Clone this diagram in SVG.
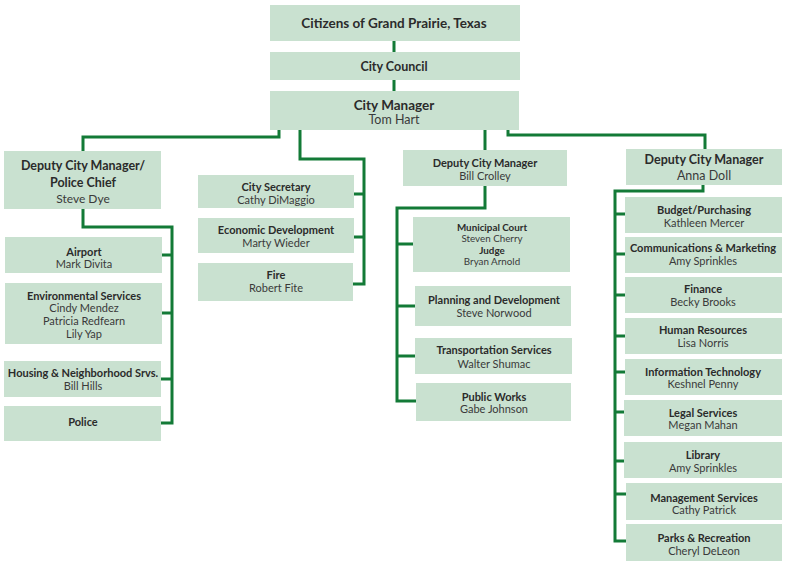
<svg xmlns="http://www.w3.org/2000/svg" width="786" height="562" viewBox="0 0 786 562">
<style>
.b{fill:#c9e1d0}
.t{font-family:Lato,"Open Sans","DejaVu Sans",sans-serif;font-weight:bold;font-size:11px;fill:#2b2b2b;text-anchor:middle;dominant-baseline:central}
.n{font-family:Lato,"Open Sans","DejaVu Sans",sans-serif;font-size:11px;fill:#3a3a3a;text-anchor:middle;dominant-baseline:central}
.L{font-size:12.5px}
.X{font-size:13.5px}
.s{font-size:9.8px}
.c{fill:none;stroke:#137a37;stroke-width:3}
</style>
<rect width="786" height="562" fill="#ffffff"/>
<g id="connectors">
<path class="c" d="M394 41V52M394 80V91"/>
<path class="c" d="M279 130V137H83V151"/>
<path class="c" d="M300 130V159H364V284H353M354 194H364M354 237H364"/>
<path class="c" d="M485 130V150"/>
<path class="c" d="M508 130V135H705V149"/>
<path class="c" d="M83 209V227H172V423H161M162 255H172M162 313H172M161 379H172"/>
<path class="c" d="M485 186V208H397V401H416M413 244H397M415 306H397M415 356H397"/>
<path class="c" d="M703 185V191H615V541H626M625 214H615M625 254H615M625 295H615M625 336H615M625 372H615M624 412H615M624 461H615M626 494H615"/>
</g>
<g id="citizens"><rect class="b" x="270" y="5" width="250" height="36"/><text class="t X" x="394" y="23">Citizens of Grand Prairie, Texas</text></g>
<g id="council"><rect class="b" x="270" y="52" width="250" height="28"/><text class="t L" x="394" y="66">City Council</text></g>
<g id="city-manager"><rect class="b" x="270" y="91" width="249" height="39"/><text class="t X" x="394" y="105">City Manager</text><text class="n L" x="394" y="119">Tom Hart</text></g>
<g id="deputy-police"><rect class="b" x="4" y="151" width="157" height="58"/><text class="t L" x="83" y="165">Deputy City Manager/</text><text class="t L" x="83" y="182">Police Chief</text><text class="n" style="font-size:12px" x="83" y="198">Steve Dye</text></g>
<g id="city-secretary"><rect class="b" x="198" y="175" width="156" height="33"/><text class="t" x="276" y="186">City Secretary</text><text class="n" x="276" y="199">Cathy DiMaggio</text></g>
<g id="economic-development"><rect class="b" x="198" y="218" width="156" height="35"/><text class="t" x="276" y="229">Economic Development</text><text class="n" x="276" y="242">Marty Wieder</text></g>
<g id="fire"><rect class="b" x="198" y="263" width="155" height="38"/><text class="t" x="276" y="274">Fire</text><text class="n" x="276" y="287">Robert Fite</text></g>
<g id="deputy-crolley"><rect class="b" x="403" y="150" width="164" height="36"/><text class="t" x="485" y="162">Deputy City Manager</text><text class="n" x="485" y="175">Bill Crolley</text></g>
<g id="deputy-doll"><rect class="b" x="626" y="149" width="156" height="36"/><text class="t L" x="704" y="159">Deputy City Manager</text><text class="n L" x="704" y="175">Anna Doll</text></g>
<g id="airport"><rect class="b" x="5" y="237" width="157" height="36"/><text class="t" x="84" y="251">Airport</text><text class="n" x="84" y="263">Mark Divita</text></g>
<g id="environmental"><rect class="b" x="5" y="283" width="157" height="61"/><text class="t" x="84" y="295">Environmental Services</text><text class="n" x="84" y="307">Cindy Mendez</text><text class="n" x="84" y="320">Patricia Redfearn</text><text class="n" x="84" y="333">Lily Yap</text></g>
<g id="housing"><rect class="b" x="4" y="361" width="157" height="36"/><text class="t" x="83" y="372">Housing &amp; Neighborhood Srvs.</text><text class="n" x="83" y="385">Bill Hills</text></g>
<g id="police"><rect class="b" x="4" y="406" width="157" height="35"/><text class="t" x="83" y="421">Police</text></g>
<g id="municipal-court"><rect class="b" x="413" y="217" width="157" height="55"/><text class="t s" x="492" y="226.5">Municipal Court</text><text class="n s" x="492" y="238">Steven Cherry</text><text class="t s" x="492" y="249.5">Judge</text><text class="n s" x="492" y="261">Bryan Arnold</text></g>
<g id="planning"><rect class="b" x="415" y="286" width="156" height="40"/><text class="t" x="494" y="299">Planning and Development</text><text class="n" x="494" y="312">Steve Norwood</text></g>
<g id="transportation"><rect class="b" x="415" y="338" width="157" height="36"/><text class="t" x="494" y="349">Transportation Services</text><text class="n" x="494" y="363">Walter Shumac</text></g>
<g id="public-works"><rect class="b" x="416" y="383" width="155" height="38"/><text class="t" x="494" y="396">Public Works</text><text class="n" x="494" y="408">Gabe Johnson</text></g>
<g id="budget"><rect class="b" x="625" y="197" width="157" height="36"/><text class="t" x="704" y="209">Budget/Purchasing</text><text class="n" x="704" y="222">Kathleen Mercer</text></g>
<g id="communications"><rect class="b" x="625" y="237" width="157" height="36"/><text class="t" x="703" y="247">Communications &amp; Marketing</text><text class="n" x="703" y="260">Amy Sprinkles</text></g>
<g id="finance"><rect class="b" x="625" y="277" width="157" height="36"/><text class="t" x="703" y="288">Finance</text><text class="n" x="703" y="301">Becky Brooks</text></g>
<g id="hr"><rect class="b" x="625" y="318" width="157" height="36"/><text class="t" x="703" y="329">Human Resources</text><text class="n" x="703" y="342">Lisa Norris</text></g>
<g id="it"><rect class="b" x="625" y="359" width="157" height="36"/><text class="t" x="703" y="371">Information Technology</text><text class="n" x="703" y="383">Keshnel Penny</text></g>
<g id="legal"><rect class="b" x="624" y="400" width="158" height="36"/><text class="t" x="703" y="412">Legal Services</text><text class="n" x="703" y="424">Megan Mahan</text></g>
<g id="library"><rect class="b" x="624" y="442" width="158" height="36"/><text class="t" x="703" y="454">Library</text><text class="n" x="703" y="467">Amy Sprinkles</text></g>
<g id="management"><rect class="b" x="626" y="483" width="156" height="37"/><text class="t" x="704" y="497">Management Services</text><text class="n" x="704" y="509">Cathy Patrick</text></g>
<g id="parks"><rect class="b" x="626" y="524" width="156" height="37"/><text class="t" x="704" y="537">Parks &amp; Recreation</text><text class="n" x="704" y="550">Cheryl DeLeon</text></g>
</svg>
